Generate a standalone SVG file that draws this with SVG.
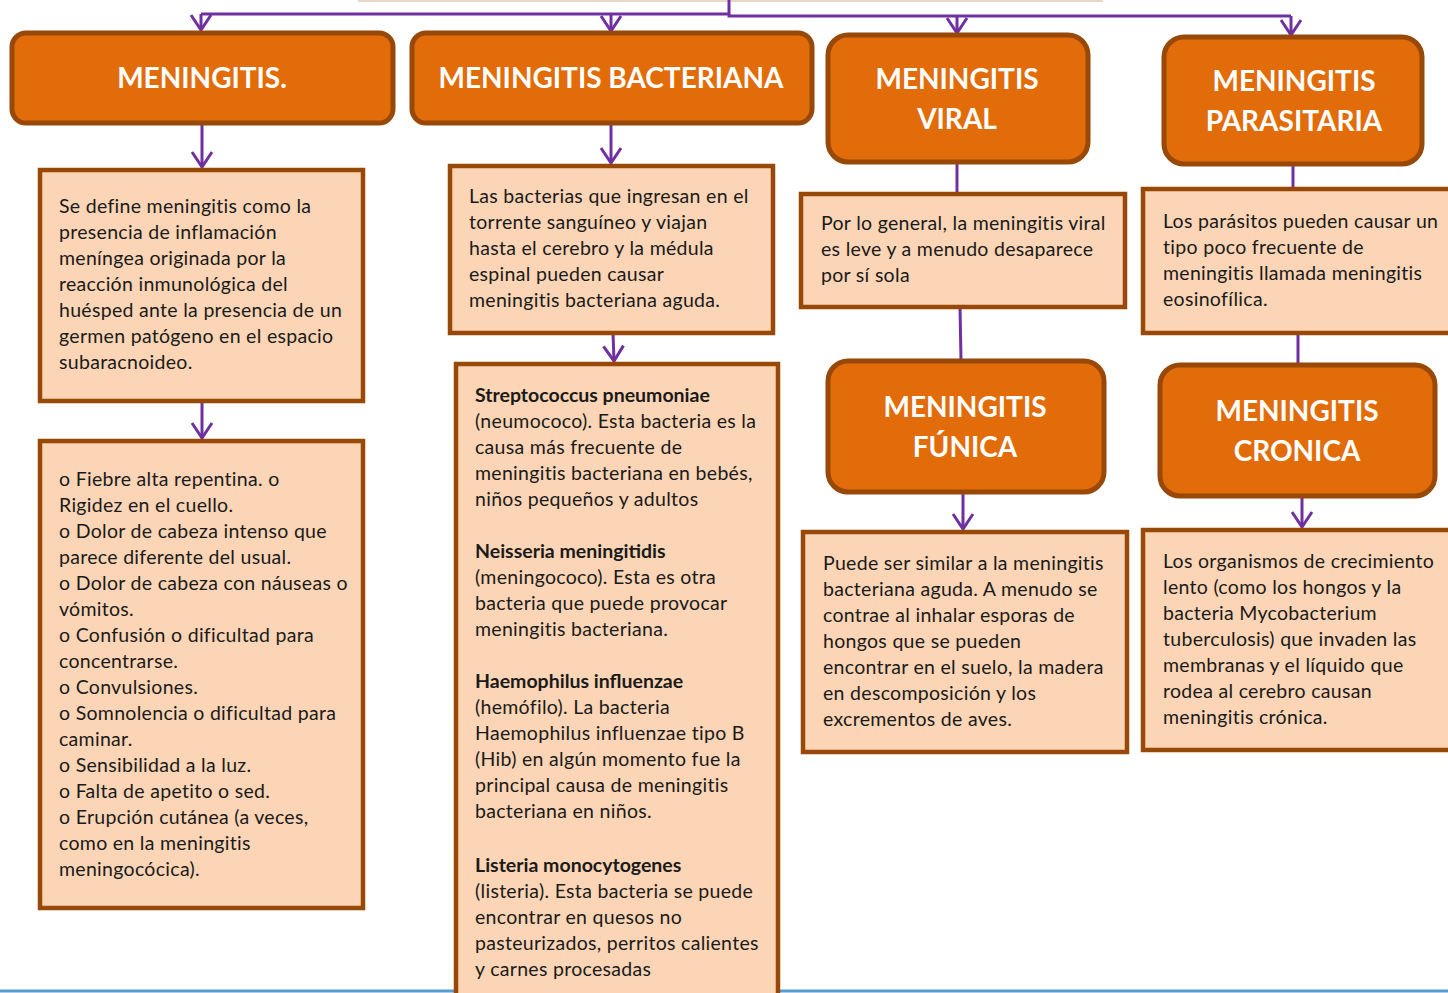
<svg xmlns="http://www.w3.org/2000/svg" width="1448" height="993" viewBox="0 0 1448 993">
<defs>
<style>
.hdr{fill:#E36C0A;stroke:#984807;stroke-width:5}
.box{fill:#FBD5B5;stroke:#984807;stroke-width:4.5}
.ht{font-family:Lato,"Open Sans",sans-serif;font-weight:bold;font-size:28px;fill:#fff;text-anchor:middle}
.t{font-family:Lato,"Noto Sans",sans-serif;font-size:19.5px;letter-spacing:0.3px;fill:#1a1a1a}
.b{font-weight:bold;letter-spacing:0}
.c{stroke:#7030A0;stroke-width:3;fill:none}
</style>
<marker id="ah" markerWidth="20" markerHeight="24" refX="17" refY="12" orient="auto" markerUnits="userSpaceOnUse" viewBox="0 0 20 24">
<path d="M2,2 L17,12 L2,22" fill="none" stroke="#7030A0" stroke-width="3"/>
</marker>
</defs>
<rect width="1448" height="993" fill="#fff"/>
<line x1="358" y1="1" x2="1103" y2="1" stroke="#E8D8C8" stroke-width="2"/>
<line x1="0" y1="991" x2="1448" y2="991" stroke="#5B9BD5" stroke-width="3"/>

<g id="connectors">
<path class="c" d="M729,0 V14 H201"/>
<path class="c" d="M729,14 V16 H1291"/>
<line class="c" x1="201" y1="14" x2="201" y2="30" marker-end="url(#ah)"/>
<line class="c" x1="611" y1="14" x2="611" y2="31" marker-end="url(#ah)"/>
<line class="c" x1="957" y1="16" x2="957" y2="33" marker-end="url(#ah)"/>
<line class="c" x1="1291" y1="16" x2="1291" y2="35" marker-end="url(#ah)"/>
<line class="c" x1="202" y1="123" x2="202" y2="167" marker-end="url(#ah)"/>
<line class="c" x1="202" y1="401" x2="202" y2="438" marker-end="url(#ah)"/>
<line class="c" x1="611" y1="123" x2="611" y2="163" marker-end="url(#ah)"/>
<line class="c" x1="613" y1="333" x2="614" y2="361" marker-end="url(#ah)"/>
<line class="c" x1="957" y1="162" x2="957" y2="194"/>
<line class="c" x1="960" y1="307" x2="961" y2="360"/>
<line class="c" x1="963" y1="492" x2="963" y2="529" marker-end="url(#ah)"/>
<line class="c" x1="1293" y1="164" x2="1293" y2="189"/>
<line class="c" x1="1298" y1="333" x2="1298" y2="365"/>
<line class="c" x1="1302" y1="496" x2="1302" y2="527" marker-end="url(#ah)"/>
</g>

<g id="n-meningitis">
<rect class="hdr" x="12" y="33" width="381" height="90" rx="14"/>
<text class="ht" x="202" y="88">MENINGITIS.</text>
</g>
<g id="n-bacteriana">
<rect class="hdr" x="412" y="33" width="400" height="90" rx="14"/>
<text class="ht" x="611" y="88">MENINGITIS BACTERIANA</text>
</g>
<g id="n-viral">
<rect class="hdr" x="828" y="35" width="260" height="127" rx="20"/>
<text class="ht" x="957" y="89">MENINGITIS</text>
<text class="ht" x="957" y="129">VIRAL</text>
</g>
<g id="n-parasitaria">
<rect class="hdr" x="1164" y="37" width="258" height="127" rx="20"/>
<text class="ht" x="1294" y="91">MENINGITIS</text>
<text class="ht" x="1294" y="131">PARASITARIA</text>
</g>
<g id="n-funica">
<rect class="hdr" x="828" y="361" width="276" height="131" rx="20"/>
<text class="ht" x="965" y="417">MENINGITIS</text>
<text class="ht" x="965" y="457">FÚNICA</text>
</g>
<g id="n-cronica">
<rect class="hdr" x="1160" y="365" width="275" height="131" rx="20"/>
<text class="ht" x="1297" y="421">MENINGITIS</text>
<text class="ht" x="1297" y="461">CRONICA</text>
</g>

<g id="n-definicion">
<rect class="box" x="40" y="170" width="323" height="231"/>
<text class="t">
<tspan x="59" y="213">Se define meningitis como la</tspan>
<tspan x="59" y="239">presencia de inflamación</tspan>
<tspan x="59" y="265">meníngea originada por la</tspan>
<tspan x="59" y="291">reacción inmunológica del</tspan>
<tspan x="59" y="317">huésped ante la presencia de un</tspan>
<tspan x="59" y="343">germen patógeno en el espacio</tspan>
<tspan x="59" y="369">subaracnoideo.</tspan>
</text>
</g>
<g id="n-sintomas">
<rect class="box" x="40" y="441" width="323" height="467"/>
<text class="t">
<tspan x="59" y="486">o Fiebre alta repentina. o</tspan>
<tspan x="59" y="512">Rigidez en el cuello.</tspan>
<tspan x="59" y="538">o Dolor de cabeza intenso que</tspan>
<tspan x="59" y="564">parece diferente del usual.</tspan>
<tspan x="59" y="590">o Dolor de cabeza con náuseas o</tspan>
<tspan x="59" y="616">vómitos.</tspan>
<tspan x="59" y="642">o Confusión o dificultad para</tspan>
<tspan x="59" y="668">concentrarse.</tspan>
<tspan x="59" y="694">o Convulsiones.</tspan>
<tspan x="59" y="720">o Somnolencia o dificultad para</tspan>
<tspan x="59" y="746">caminar.</tspan>
<tspan x="59" y="772">o Sensibilidad a la luz.</tspan>
<tspan x="59" y="798">o Falta de apetito o sed.</tspan>
<tspan x="59" y="824">o Erupción cutánea (a veces,</tspan>
<tspan x="59" y="850">como en la meningitis</tspan>
<tspan x="59" y="876">meningocócica).</tspan>
</text>
</g>
<g id="n-bact-texto">
<rect class="box" x="450" y="166" width="323" height="167"/>
<text class="t">
<tspan x="469" y="203">Las bacterias que ingresan en el</tspan>
<tspan x="469" y="229">torrente sanguíneo y viajan</tspan>
<tspan x="469" y="255">hasta el cerebro y la médula</tspan>
<tspan x="469" y="281">espinal pueden causar</tspan>
<tspan x="469" y="307">meningitis bacteriana aguda.</tspan>
</text>
</g>
<g id="n-bact-lista">
<rect class="box" x="456" y="364" width="322" height="640"/>
<text class="t">
<tspan x="475" y="402" class="b">Streptococcus pneumoniae</tspan>
<tspan x="475" y="428">(neumococo). Esta bacteria es la</tspan>
<tspan x="475" y="454">causa más frecuente de</tspan>
<tspan x="475" y="480">meningitis bacteriana en bebés,</tspan>
<tspan x="475" y="506">niños pequeños y adultos</tspan>
<tspan x="475" y="558" class="b">Neisseria meningitidis</tspan>
<tspan x="475" y="584">(meningococo). Esta es otra</tspan>
<tspan x="475" y="610">bacteria que puede provocar</tspan>
<tspan x="475" y="636">meningitis bacteriana.</tspan>
<tspan x="475" y="688" class="b">Haemophilus influenzae</tspan>
<tspan x="475" y="714">(hemófilo). La bacteria</tspan>
<tspan x="475" y="740">Haemophilus influenzae tipo B</tspan>
<tspan x="475" y="766">(Hib) en algún momento fue la</tspan>
<tspan x="475" y="792">principal causa de meningitis</tspan>
<tspan x="475" y="818">bacteriana en niños.</tspan>
<tspan x="475" y="872" class="b">Listeria monocytogenes</tspan>
<tspan x="475" y="898">(listeria). Esta bacteria se puede</tspan>
<tspan x="475" y="924">encontrar en quesos no</tspan>
<tspan x="475" y="950">pasteurizados, perritos calientes</tspan>
<tspan x="475" y="976">y carnes procesadas</tspan>
</text>
</g>
<g id="n-viral-texto">
<rect class="box" x="801" y="194" width="324" height="113"/>
<text class="t">
<tspan x="821" y="230">Por lo general, la meningitis viral</tspan>
<tspan x="821" y="256">es leve y a menudo desaparece</tspan>
<tspan x="821" y="282">por sí sola</tspan>
</text>
</g>
<g id="n-parasitaria-texto">
<rect class="box" x="1143" y="189" width="320" height="144"/>
<text class="t">
<tspan x="1163" y="228">Los parásitos pueden causar un</tspan>
<tspan x="1163" y="254">tipo poco frecuente de</tspan>
<tspan x="1163" y="280">meningitis llamada meningitis</tspan>
<tspan x="1163" y="306">eosinofílica.</tspan>
</text>
</g>
<g id="n-funica-texto">
<rect class="box" x="803" y="532" width="324" height="220"/>
<text class="t">
<tspan x="823" y="570">Puede ser similar a la meningitis</tspan>
<tspan x="823" y="596">bacteriana aguda. A menudo se</tspan>
<tspan x="823" y="622">contrae al inhalar esporas de</tspan>
<tspan x="823" y="648">hongos que se pueden</tspan>
<tspan x="823" y="674">encontrar en el suelo, la madera</tspan>
<tspan x="823" y="700">en descomposición y los</tspan>
<tspan x="823" y="726">excrementos de aves.</tspan>
</text>
</g>
<g id="n-cronica-texto">
<rect class="box" x="1143" y="530" width="320" height="220"/>
<text class="t">
<tspan x="1163" y="568">Los organismos de crecimiento</tspan>
<tspan x="1163" y="594">lento (como los hongos y la</tspan>
<tspan x="1163" y="620">bacteria Mycobacterium</tspan>
<tspan x="1163" y="646">tuberculosis) que invaden las</tspan>
<tspan x="1163" y="672">membranas y el líquido que</tspan>
<tspan x="1163" y="698">rodea al cerebro causan</tspan>
<tspan x="1163" y="724">meningitis crónica.</tspan>
</text>
</g>
</svg>
